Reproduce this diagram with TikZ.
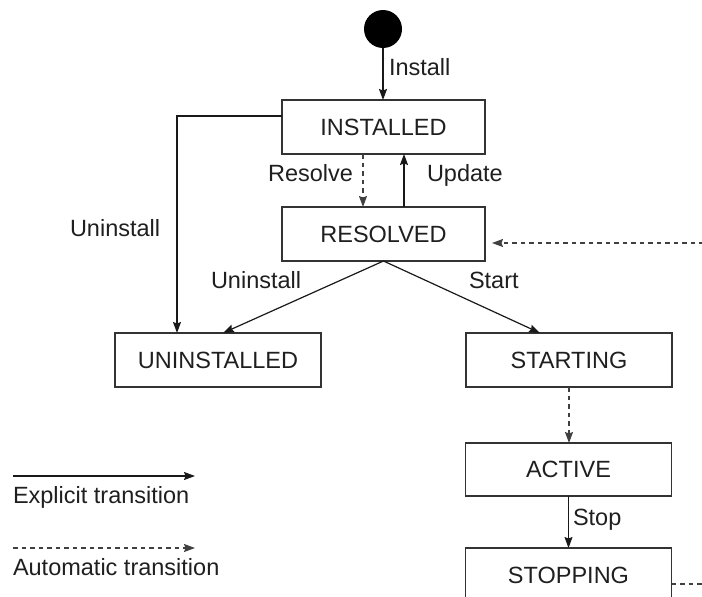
\documentclass[tikz,border=0pt]{standalone}
\usepackage{fontspec}
\setmainfont{Liberation Sans}
\usetikzlibrary{arrows.meta}
\begin{document}
\begin{tikzpicture}[x=1pt,y=-1pt,
  font=\fontsize{23.5}{28}\selectfont,
  every node/.style={text=black!88, inner sep=0pt, outer sep=0pt},
  state/.style={draw=black!80, line width=1.7pt, fill=white,
    minimum width=205pt, minimum height=54pt},
  tip/.style={-{Stealth[length=11pt,width=8pt,inset=1.5pt]}},
  explicit/.style={tip, line width=1.2pt, draw=black!90},
  automatic/.style={tip, line width=1.2pt, draw=black!75, dash pattern=on 4.5pt off 4pt},
  lbl/.style={anchor=base west},
]
\useasboundingbox (0,0) rectangle (702,597);
\clip (0,0) rectangle (702,597);

% states
\node[circle, fill=black, minimum size=38pt] (init) at (383,29) {};
\node[state, minimum width=203pt] (installed)   at (383.5,127) {INSTALLED};
\node[state, minimum width=203pt] (resolved)    at (383.5,234) {RESOLVED};
\node[state, minimum width=206pt] (uninstalled) at (218,360)   {UNINSTALLED};
\node[state, minimum width=206pt] (starting)    at (569,360)   {STARTING};
\node[state, minimum width=206pt, minimum height=53pt] (active) at (568.5,469.5) {ACTIVE};
\node[state, minimum width=206pt] (stopping)    at (568.5,575) {STOPPING};

% transitions leaving the picture
\coordinate (fromright) at (712,243);
\coordinate (toright)   at (712,584);

% transitions
\draw[explicit] (init) -- (init |- installed.north);
\node[lbl] (linstall) at (389,75) {Install};

\draw[automatic] ([xshift=-20.5pt]installed.south) -- ([xshift=-20.5pt]resolved.north);
\node[anchor=base east] (lresolve) at (353,181) {Resolve};

\draw[explicit] ([xshift=20.5pt]resolved.north) -- ([xshift=20.5pt]installed.south);
\node[lbl] (lupdate) at (427,181) {Update};

\draw[explicit] ([yshift=11pt]installed.west) -| ([xshift=-41pt]uninstalled.north);
\node[lbl] (luninstall1) at (70,236) {Uninstall};

\draw[explicit] (resolved.south) -- ([xshift=5pt]uninstalled.north);
\node[lbl] (luninstall2) at (211,288) {Uninstall};

\draw[explicit] (resolved.south) -- ([xshift=-29pt]starting.north);
\node[lbl] (lstart) at (469,288) {Start};

\draw[automatic] (fromright) -- ([xshift=7pt]resolved.east |- fromright);

\draw[automatic] (starting.south) -- (starting.south |- active.north);

\draw[explicit] (active.south) -- (active.south |- stopping.north);
\node[lbl] (lstop) at (573,525) {Stop};

\draw[automatic, -] (stopping.east |- toright) -- (toright);

% legend
\coordinate (ex1) at (13,476);
\coordinate (ex2) at (195,476);
\draw[explicit] (ex1) -- (ex2);
\node[lbl] (lexplicit) at (13,503) {Explicit transition};

\coordinate (au1) at (13,548);
\coordinate (au2) at (195,548);
\draw[automatic] (au1) -- (au2);
\node[lbl] (lautomatic) at (13,575) {Automatic transition};
\end{tikzpicture}
\end{document}
